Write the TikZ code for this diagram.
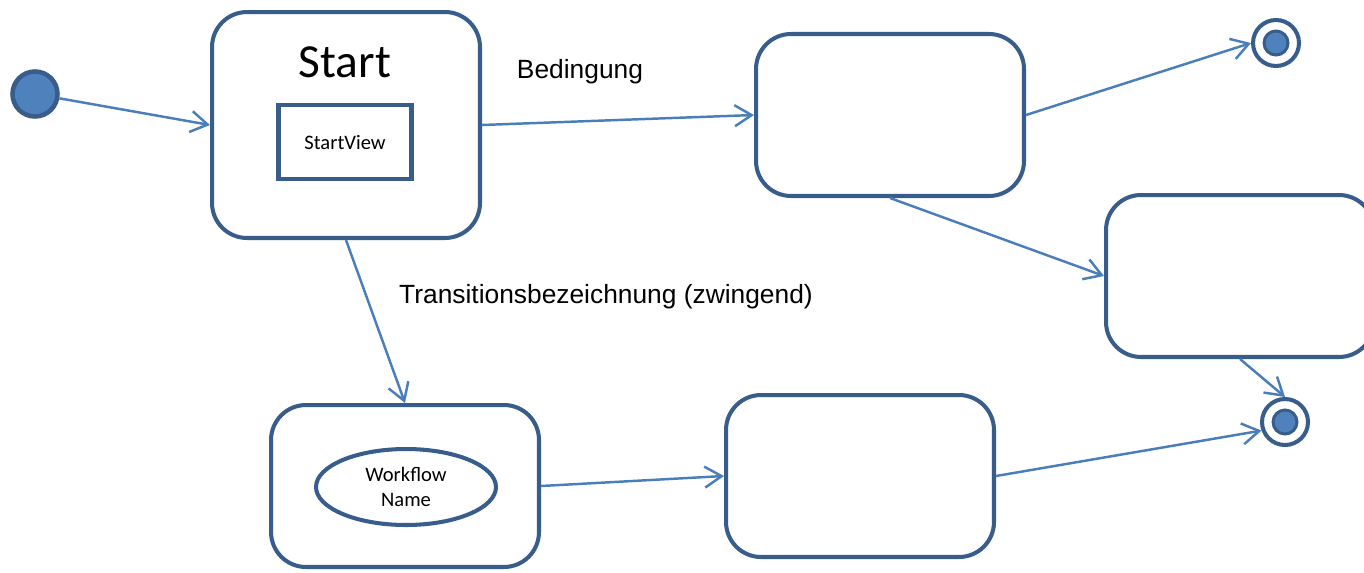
\documentclass[tikz,border=0pt]{standalone}
\usepackage{fontspec}
\setmainfont{Carlito}
\newfontfamily\arialfont{Liberation Sans}
\usetikzlibrary{arrows.meta,shapes.geometric}
\definecolor{rand}{HTML}{385D8A}
\definecolor{fuell}{HTML}{4F81BD}
\definecolor{linie}{HTML}{4A7EBB}

\begin{document}
\begin{tikzpicture}[x=0.02cm,y=-0.02cm,
    zustand/.style={draw=rand, line width=2.3pt, rounded corners=0.7cm, minimum width=5.36cm, minimum height=3.24cm},
    anfang/.style={circle, inner sep=0pt, draw=rand, fill=fuell, line width=2.6pt, minimum size=0.9cm},
    ende/.style={circle, inner sep=0pt, draw=rand, line width=2.3pt, minimum size=0.92cm,
        path picture={\draw[rand, fill=fuell, line width=1.7pt] (path picture bounding box.center) circle (0.24cm);}},
    pfeil/.style={-{Straight Barb[length=0.34cm,width=0.42cm]}, linie, line width=1.4pt},
    beschriftung/.style={font=\arialfont\fontsize{15}{18}\selectfont},
]

\useasboundingbox (0,0) rectangle (1364,572);
\clip (0,0) rectangle (1364,572);

\node [anfang] (anf) at (35,94) {};

\node [zustand, minimum height=4.52cm] (start) at (346,125) {};
\node [font=\fontsize{27}{32}\selectfont] (titel) at (345,62) {Start};
\node [draw=rand, line width=2.3pt, minimum width=2.66cm, minimum height=1.48cm,
    font=\fontsize{11.7}{14}\selectfont] (view) at (345,142) {StartView};

\node [zustand] (z2) at (890,115) {};
\node [zustand] (z3) at (1240,276) {};
\node [zustand] (z4) at (405,486) {};
\node [ellipse, draw=rand, line width=2.3pt, minimum width=3.6cm, minimum height=1.52cm,
    align=center, font=\fontsize{11.7}{14}\selectfont] (wf) at (406,487) {Workflow\\Name};
\node [zustand] (z5) at (860,476) {};

\node [ende] (e1) at (1276,43) {};
\node [ende] (e2) at (1285,422) {};

\node [beschriftung] (bed) at (580,72) {Bedingung};
\node [beschriftung] (trans) at (606,297) {Transitionsbezeichnung (zwingend)};

\draw [pfeil] (anf) -- (start.west);
\draw [pfeil] (start.east) -- (z2.west);
\draw [pfeil] (start.south) -- (z4.north);
\draw [pfeil] (z2.east) -- (e1.west);
\draw [pfeil] (z2.south) -- (z3.west);
\draw [pfeil] (z3.south) -- (e2.north);
\draw [pfeil] (z4.east) -- (z5.west);
\draw [pfeil] (z5.east) -- (e2.200);

\end{tikzpicture}
\end{document}
